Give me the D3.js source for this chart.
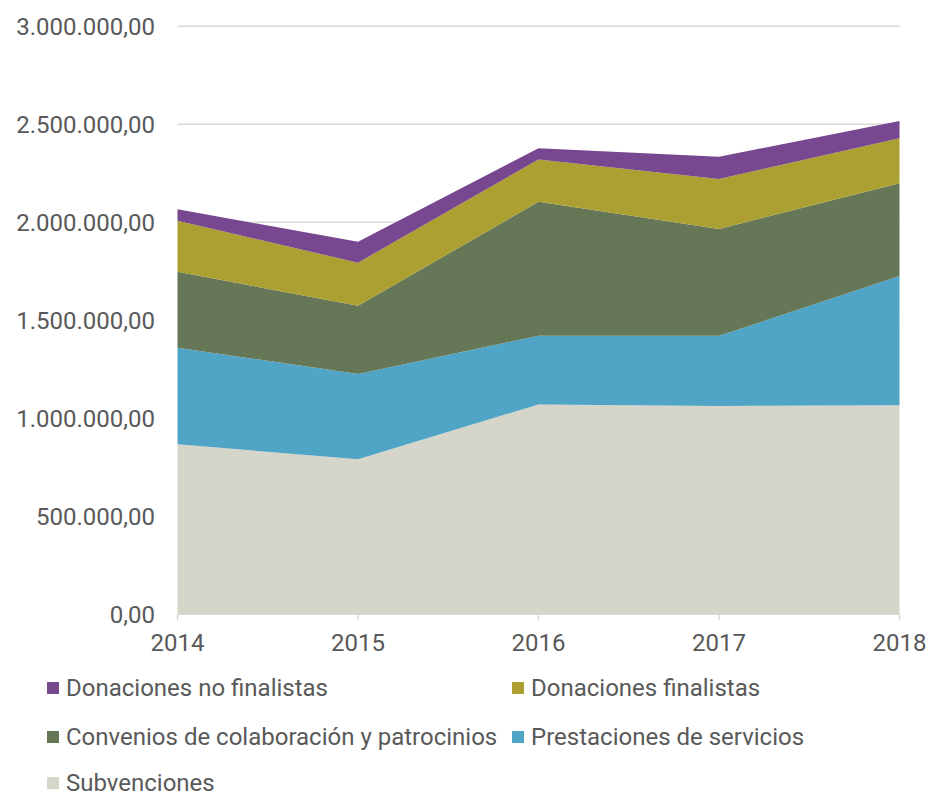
<!DOCTYPE html>
<html>
<head>
<meta charset="utf-8">
<script src="https://cdn.jsdelivr.net/npm/d3@7.9.0/dist/d3.min.js"></script>
<style>
  body { margin: 0; background: #fff; }
  svg text { font-family: Roboto, "Noto Sans", sans-serif; fill: #595959; }
</style>
</head>
<body>
<svg id="chart" width="933" height="797"></svg>
<script>
// Years on the x axis
const years = ['2014', '2015', '2016', '2017', '2018'];

// Series, bottom to top of the stack
const subvenciones = [867000, 791000, 1071000, 1063000, 1066000];
const prestaciones = [493000, 435000, 350000, 358000, 660000];
const convenios = [388000, 348000, 684000, 545000, 473000];
const donacionesFinalistas = [260000, 220000, 216000, 255000, 230000];
const donacionesNoFinalistas = [58000, 107000, 57000, 114000, 88000];

const seriesNames = ['Subvenciones', 'Prestaciones de servicios', 'Convenios de colaboración y patrocinios', 'Donaciones finalistas', 'Donaciones no finalistas'];
const seriesValues = [subvenciones, prestaciones, convenios, donacionesFinalistas, donacionesNoFinalistas];
const seriesColors = ['#d5d5ca', '#50a4c6', '#657756', '#aca033', '#77478f'];

// Y ticks
const yTicks = [0, 500000, 1000000, 1500000, 2000000, 2500000, 3000000];

// Legend order as in the picture
const legendOrder = ['Donaciones no finalistas', 'Donaciones finalistas', 'Convenios de colaboración y patrocinios', 'Prestaciones de servicios', 'Subvenciones'];

// Build rows for d3.stack
const rows = years.map((y, i) => {
  const row = { year: y };
  seriesNames.forEach((name, s) => { row[name] = seriesValues[s][i]; });
  return row;
});

const svg = d3.select('#chart');

const x = d3.scalePoint().domain(years).range([177.5, 899.5]);
const y = d3.scaleLinear().domain([0, 3000000]).range([614.3, 26.3]);

const color = d3.scaleOrdinal().domain(seriesNames).range(seriesColors);

// Number format like 3.000.000,00
const es = d3.formatLocale({ decimal: ',', thousands: '.', grouping: [3], currency: ['', '€'] });
const fmt = es.format(',.2f');

// Gridlines
svg.append('g')
  .selectAll('line')
  .data(yTicks)
  .join('line')
  .attr('x1', x('2014'))
  .attr('x2', x('2018'))
  .attr('y1', d => y(d))
  .attr('y2', d => y(d))
  .attr('stroke', '#d9d9d9')
  .attr('stroke-width', 1.5);

// Small x tick marks under the baseline
svg.append('g')
  .selectAll('line')
  .data(years)
  .join('line')
  .attr('x1', d => x(d))
  .attr('x2', d => x(d))
  .attr('y1', y(0))
  .attr('y2', y(0) + 6)
  .attr('stroke', '#d9d9d9')
  .attr('stroke-width', 1.5);

// Stacked areas
const stack = d3.stack().keys(seriesNames);
const stacked = stack(rows);

const area = d3.area()
  .x(d => x(d.data.year))
  .y0(d => y(d[0]))
  .y1(d => y(d[1]));

svg.append('g')
  .selectAll('path')
  .data(stacked)
  .join('path')
  .attr('d', area)
  .attr('fill', d => color(d.key));

// Y axis labels
svg.append('g')
  .selectAll('text')
  .data(yTicks)
  .join('text')
  .attr('x', 155)
  .attr('y', d => y(d))
  .attr('dy', '0.35em')
  .attr('text-anchor', 'end')
  .attr('font-size', 24)
  .text(d => fmt(d));

// X axis labels
svg.append('g')
  .selectAll('text')
  .data(years)
  .join('text')
  .attr('x', d => x(d))
  .attr('y', 643)
  .attr('dy', '0.35em')
  .attr('text-anchor', 'middle')
  .attr('font-size', 24)
  .text(d => d);

// Legend
const legendPos = [
  [47, 688], [512, 688],
  [47, 737], [512, 737],
  [47, 783]
];

const legend = svg.append('g')
  .selectAll('g')
  .data(legendOrder)
  .join('g')
  .attr('transform', (d, i) => `translate(${legendPos[i][0]},${legendPos[i][1]})`);

legend.append('rect')
  .attr('x', 0)
  .attr('y', -6)
  .attr('width', 12)
  .attr('height', 12)
  .attr('fill', d => color(d));

legend.append('text')
  .attr('x', 19)
  .attr('y', 0)
  .attr('dy', '0.35em')
  .attr('font-size', 24)
  .text(d => d);
</script>
</body>
</html>
